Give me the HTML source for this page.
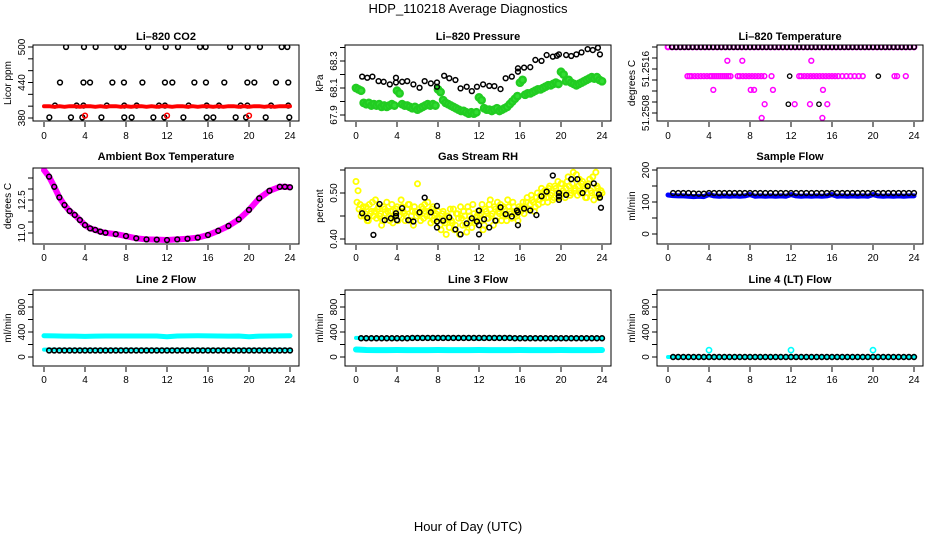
<!DOCTYPE html>
<html><head><meta charset="utf-8"><style>
html,body{margin:0;padding:0;background:#fff;}
svg{display:block;font-family:"Liberation Sans",sans-serif;}
</style></head><body>
<svg id="chart" width="936" height="540" viewBox="0 0 936 540" xmlns="http://www.w3.org/2000/svg">
<text x="468" y="13" text-anchor="middle" font-size="13">HDP_110218  Average Diagnostics</text>
<text x="468" y="531" text-anchor="middle" font-size="13">Hour of Day (UTC)</text>
</svg>
<script>
// ---------- data ----------
const xTicks = [0,4,8,12,16,20,24];
// CO2
const co2BlackHours500 = [2.15,3.9,5.04,7.15,7.74,10.15,11.87,13.07,15.22,15.77,18.15,19.87,21.07,23.19,23.74];
const co2BlackHours440 = [1.56,3.85,4.49,6.67,7.8,9.6,11.8,12.52,14.67,15.8,17.59,19.84,20.52,22.63,23.83];
const co2BlackHours400 = [1.07,3.18,3.85,6.13,7.83,9.04,11.22,11.8,14.11,15.87,17.07,19.19,19.84,22.15,23.83];
const co2BlackHours380 = [0.52,2.63,3.74,5.6,7.83,8.55,10.67,11.74,13.6,15.87,16.52,18.7,19.71,21.63,23.93];
const co2Levels = [500,440,401,381];
const co2RedHours = [0,0.5,1,1.5,2,2.5,3,3.5,4,4.5,5,5.5,6,6.5,7,7.5,8,8.5,9,9.5,10,10.5,11,11.5,12,12.5,13,13.5,14,14.5,15,15.5,16,16.5,17,17.5,18,18.5,19,19.5,20,20.5,21,21.5,22,22.5,23,23.5,24];
const co2Red = [400,400,399,400,399,400,400,399,400,400,399,400,399,400,400,399,400,399,400,400,399,400,399,400,400,399,400,400,399,400,399,400,400,399,400,399,400,400,399,400,399,400,400,399,400,399,400,400,400];
const co2RedOutHours = [4,12,20];
const co2RedOut = [384,384,384];
const co2Ticks = [380,400,420,440,460,480,500];
const co2Labels = [380,440,500];
// Pressure
const presGreen = [68.10,68.09,68.08,
67.99,67.98,67.99,67.97,67.98,67.97,67.98,67.96,67.97,67.96,67.97,67.98,67.97,
68.08,68.06,
67.98,67.97,67.97,67.96,67.95,67.96,67.94,67.95,67.96,67.97,67.98,67.97,67.98,67.97,
68.09,68.07,
68.01,67.99,67.98,67.97,67.96,67.95,67.94,67.93,67.93,67.92,67.91,67.92,67.91,67.92,
68.03,68.01,
67.95,67.94,67.94,67.93,67.94,67.95,67.93,67.94,67.95,67.96,
67.98,68.00,68.02,68.04,
68.14,68.16,
68.05,68.06,68.06,68.07,68.08,68.09,68.09,68.10,68.11,68.12,68.12,68.13,68.14,68.13,
68.22,68.20,
68.15,68.16,68.14,68.13,68.12,68.13,68.14,68.15,68.16,68.17,68.18,68.17,68.18,68.16,68.15];
const presBlackHours = [0.6,1.1,1.6,2.2,2.7,3.3,3.9,3.9,4.5,5.0,5.6,6.2,6.7,7.3,7.9,7.9,8.6,9.1,9.7,10.2,10.8,11.3,11.8,12.4,13.0,13.5,14.1,14.6,15.2,15.8,15.8,16.4,17.0,17.5,18.1,18.6,19.2,19.6,19.8,20.5,21.0,21.5,22.0,22.6,23.1,23.6,23.8];
const presBlack = [68.184,68.176,68.184,68.151,68.146,68.127,68.141,68.176,68.146,68.151,68.127,68.102,68.151,68.134,68.109,68.141,68.191,68.172,68.159,68.097,68.109,68.077,68.109,68.127,68.116,68.114,68.092,68.172,68.184,68.246,68.221,68.251,68.254,68.308,68.301,68.344,68.332,68.339,68.349,68.344,68.337,68.349,68.364,68.388,68.381,68.398,68.349];
const presTicks = [67.9,68.0,68.1,68.2,68.3,68.4];
const presLabels = ["67.9","68.1","68.3"];
// Li-820 temperature
const tempTopHours = [0.0,0.4,0.8,1.2,1.6,2.0,2.4,2.8,3.2,3.6,4.0,4.4,4.8,5.2,5.6,6.0,6.4,6.8,7.2,7.6,8.0,8.4,8.8,9.2,9.6,10.0,10.4,10.8,11.2,11.6,12.0,12.4,12.8,13.2,13.6,14.0,14.4,14.8,15.2,15.6,16.0,16.4,16.8,17.2,17.6,18.0,18.4,18.8,19.2,19.6,20.0,20.4,20.8,21.2,21.6,22.0,22.4,22.8,23.2,23.6,24.0];
const tempTop = [51.2520,51.2520,51.2520,51.2520,51.2520,51.2520,51.2520,51.2520,51.2520,51.2520,51.2520,51.2520,51.2520,51.2520,51.2520,51.2520,51.2520,51.2520,51.2520,51.2520,51.2520,51.2520,51.2520,51.2520,51.2520,51.2520,51.2520,51.2520,51.2520,51.2520,51.2520,51.2520,51.2520,51.2520,51.2520,51.2520,51.2520,51.2520,51.2520,51.2520,51.2520,51.2520,51.2520,51.2520,51.2520,51.2520,51.2520,51.2520,51.2520,51.2520,51.2520,51.2520,51.2520,51.2520,51.2520,51.2520,51.2520,51.2520,51.2520,51.2520,51.2520];
const tempMagHours = [5.79,7.25,13.98,
1.9,2.1,2.3,2.6,2.9,3.2,3.5,3.8,4.1,4.3,4.5,4.7,4.9,5.1,5.3,5.5,5.7,5.9,6.1,6.8,7.0,7.3,7.6,7.9,8.2,8.5,8.8,9.1,9.4,10.1,12.8,13.0,13.3,13.6,13.9,14.2,14.5,14.8,15.1,15.4,15.7,16.0,16.3,16.6,17.0,17.4,17.8,18.2,18.6,19.0,22.1,22.35,23.2,
4.42,8.07,8.4,10.24,15.12,
9.43,12.36,13.85,15.54,
9.14,15.06];
const tempMag = [51.25175,51.25175,51.25175,
51.25147,51.25147,51.25147,51.25147,51.25147,51.25147,51.25147,51.25147,51.25147,51.25147,51.25147,51.25147,51.25147,51.25147,51.25147,51.25147,51.25147,51.25147,51.25147,51.25147,51.25147,51.25147,51.25147,51.25147,51.25147,51.25147,51.25147,51.25147,51.25147,51.25147,51.25147,51.25147,51.25147,51.25147,51.25147,51.25147,51.25147,51.25147,51.25147,51.25147,51.25147,51.25147,51.25147,51.25147,51.25147,51.25147,51.25147,51.25147,51.25147,51.25147,51.25147,51.25147,51.25147,
51.25122,51.25122,51.25122,51.25122,51.25122,
51.25096,51.25096,51.25096,51.25096,
51.25071,51.25071];
const tempBlackHours = [11.87,20.52,11.74,14.73];
const tempBlack = [51.25147,51.25147,51.25096,51.25096];
const tempTicks = [51.2508,51.2510,51.2512,51.2514,51.2516,51.2518,51.2520];
const tempLabels = ["51.2508","51.2516"];
// Ambient
const ambHours = [0,0.5,1,1.5,2,2.5,3,3.5,4,4.5,5,5.5,6,7,8,9,10,11,12,13,14,15,16,17,18,19,20,21,22,23,23.5,24];
const ambTemp = [13.86,13.56,13.1,12.62,12.27,12.0,11.82,11.59,11.36,11.21,11.14,11.06,11.01,10.95,10.86,10.76,10.71,10.70,10.68,10.71,10.74,10.79,10.91,11.1,11.32,11.62,12.05,12.58,12.92,13.1,13.1,13.08];
const ambTicks = [11.0,11.5,12.0,12.5,13.0,13.5];
const ambLabels = ["11.0","12.5"];
// Gas stream RH
const rhYellowA = [0.525,0.505,0.475,0.46,0.45,0.47,0.44,0.455,0.48,0.46,
0.445,0.47,0.455,0.44,0.465,0.48,0.45,0.46,0.435,0.455,
0.47,0.45,0.485,0.46,0.44,0.465,0.475,0.45,0.43,0.46,
0.52,0.455,0.47,0.445,0.46,0.48,0.45,0.465,0.44,0.455,0.46,
0.43,0.455,0.44,0.41,0.45,0.465,0.435,0.42,0.455,0.445,
0.47,0.43,0.45,0.415,0.46,0.44,0.475,0.435,0.45,0.44,
0.455,0.42,0.465,0.445,0.475,0.45,0.43,0.465,0.48,0.455,
0.44,0.47,0.45,0.485,0.46,0.445,0.47,0.455,0.44,0.465,
0.47,0.455,0.48,0.465,0.475,0.485,0.46,0.49,0.475,0.495,
0.48,0.505,0.49,0.51,0.495,0.485,0.515,0.5,0.49,0.52,
0.505,0.49,0.525,0.515,0.5,0.545,0.51,0.495,0.53,0.52,
0.505,0.49,0.515,0.53,0.5,0.485,0.545,0.51,0.495,0.5];
const rhYellowB = [0.48,0.465,0.45,0.47,0.455,0.44,0.475,0.46,0.45,0.485,
0.465,0.45,0.43,0.47,0.455,0.46,0.44,0.475,0.45,0.465,
0.44,0.46,0.47,0.455,0.45,0.475,0.44,0.46,0.47,0.45,
0.455,0.44,0.465,0.475,0.45,0.46,0.435,0.47,0.45,0.445,
0.445,0.42,0.46,0.435,0.45,0.425,0.44,0.465,0.43,0.455,
0.41,0.445,0.46,0.43,0.47,0.45,0.425,0.455,0.44,0.46,
0.45,0.475,0.43,0.46,0.445,0.485,0.455,0.47,0.44,0.46,
0.475,0.45,0.465,0.44,0.47,0.455,0.48,0.46,0.45,0.47,
0.46,0.48,0.47,0.49,0.465,0.495,0.48,0.47,0.5,0.485,
0.51,0.49,0.5,0.48,0.515,0.5,0.49,0.51,0.525,0.5,
0.52,0.5,0.51,0.535,0.495,0.52,0.505,0.54,0.515,0.5,
0.525,0.51,0.49,0.52,0.505,0.535,0.5,0.515,0.49,0.505];
const rhBlackHours = [0.6,1.1,1.7,2.3,2.8,3.4,3.9,3.9,4.0,4.5,5.1,5.6,6.2,6.7,7.3,7.9,7.9,7.9,8.5,9.1,9.7,10.2,10.8,11.3,11.8,12.0,12.0,12.0,12.5,13.0,13.6,14.1,14.6,15.2,15.7,15.8,15.8,16.4,17.0,17.6,18.1,18.6,19.2,19.8,19.8,19.8,20.5,21.0,21.6,22.1,22.6,23.2,23.7,23.8,23.9];
const rhBlack = [0.456,0.446,0.409,0.476,0.441,0.445,0.456,0.45,0.441,0.467,0.441,0.438,0.458,0.49,0.458,0.472,0.438,0.425,0.44,0.447,0.421,0.41,0.434,0.445,0.438,0.462,0.43,0.41,0.443,0.425,0.44,0.469,0.454,0.449,0.462,0.458,0.43,0.466,0.462,0.452,0.493,0.503,0.538,0.5,0.493,0.485,0.496,0.53,0.53,0.5,0.515,0.521,0.497,0.49,0.468];
const rhTicks = [0.40,0.45,0.50,0.55];
const rhLabels = ["0.40","0.50"];
// Sample flow
const flowHours = [0,0.5,1,1.5,2,2.5,3,3.5,4,4.5,5,5.5,6,6.5,7,7.5,8,8.5,9,9.5,10,10.5,11,11.5,12,12.5,13,13.5,14,14.5,15,15.5,16,16.5,17,17.5,18,18.5,19,19.5,20,20.5,21,21.5,22,22.5,23,23.5,24];
const flowBlue = [122,120,119,119,118,117,118,117,123,119,118,119,118,119,118,119,123,118,119,118,119,118,119,118,123,119,118,119,118,119,118,119,123,118,119,118,119,118,119,118,123,119,118,119,118,119,118,119,119];
const flowBlack = [122,128,128,128,128,127,126,126,128,128,128,128,128,128,128,128,128,128,128,128,128,128,128,128,128,128,128,128,128,128,128,128,128,128,128,128,128,128,128,128,128,128,128,128,128,128,128,128,128];
const flowTicks = [0,50,100,150,200];
const flowLabels = [0,100,200];
// Lines 2-4 flows (hourly)
const lineHours = [0,1,2,3,4,5,6,7,8,9,10,11,12,13,14,15,16,17,18,19,20,21,22,23,24];
const line2CyanHigh = [340,338,335,335,330,334,336,336,336,336,336,336,325,336,338,340,338,336,335,336,325,334,336,338,340];
const line2CyanLow = [118,118,116,116,116,116,116,116,116,116,116,116,116,116,116,116,116,116,116,116,116,116,116,116,116];
const line2Black = [105,105,105,105,105,105,105,105,105,105,105,105,105,105,105,105,105,105,105,105,105,105,105,105,105];
const line3CyanHigh = [305,300,300,300,290,305,305,305,305,305,305,305,290,305,305,305,305,300,300,300,290,300,300,300,300];
const line3CyanLow = [120,112,110,110,112,110,110,110,112,110,110,110,112,110,110,110,112,110,110,110,112,110,110,110,112];
const line3Black = [300,300,300,300,300,300,305,305,305,305,305,305,305,305,305,305,300,300,300,300,300,300,300,300,300];
const line4Cyan = [0,0,0,0,0,0,0,0,0,0,0,0,0,0,0,0,0,0,0,0,0,0,0,0,0];
const line4Black = [0,0,0,0,0,0,0,0,0,0,0,0,0,0,0,0,0,0,0,0,0,0,0,0,0];
const line4SpikeHours = [4,12,20];
const line4Spike = [110,110,110];
const lineTicks = [0,200,400,600,800,1000];
const lineLabels = [0,400,800];

// ---------- drawing ----------
const svg = document.getElementById('chart');
const NS = 'http://www.w3.org/2000/svg';
function mk(tag, attrs, parent){
  const e = document.createElementNS(NS, tag);
  for (const k in attrs) e.setAttribute(k, attrs[k]);
  (parent||svg).appendChild(e);
  return e;
}
const COLS = [33,345,657];
const ROWS = [{top:45,bot:121,lab:139,title:40},{top:168,bot:244,lab:261,title:160},{top:290,bot:366,lab:383,title:283}];

function makePanel(col,row,title,slug,ylab,v1,y1,v2,y2,ticks,labels,labelFmt){
  const x0 = COLS[col], r = ROWS[row];
  const g = mk('g',{});
  
  
  const p = {
    x: h => x0 + 11 + h*10.25,
    y: v => y1 + (v - v1)*(y2 - y1)/(v2 - v1),
    g: g
  };
  const t = mk('text',{x:x0+133,y:r.title,'text-anchor':'middle','font-size':11,'font-weight':'bold'},g);
  t.textContent = title;
  
  
  const data = mk('g',{},g);
  
  
  p.d = data;
  // x axis
  const xa = mk('g',{},g);
  
  
  xTicks.forEach(h=>{
    mk('line',{x1:p.x(h),x2:p.x(h),y1:r.bot+1,y2:r.bot+6,stroke:'#000','stroke-width':1},xa);
    const tl = mk('text',{x:p.x(h),y:r.lab,'text-anchor':'middle','font-size':10},xa);
    tl.textContent = h;
  });
  // y axis
  const ya = mk('g',{},g);
  
  
  ticks.forEach(v=>{
    mk('line',{x1:x0-5,x2:x0,y1:p.y(v),y2:p.y(v),stroke:'#000','stroke-width':1},ya);
  });
  labels.forEach(v=>{
    const yy = p.y(parseFloat(v));
    const tl = mk('text',{x:x0-8,y:yy,'text-anchor':'middle','font-size':10,transform:`rotate(-90 ${x0-8} ${yy})`},ya);
    tl.textContent = labelFmt ? labelFmt(v) : v;
  });
  const yt = mk('text',{x:x0-22,y:(r.top+r.bot)/2,'text-anchor':'middle','font-size':10,transform:`rotate(-90 ${x0-22} ${(r.top+r.bot)/2})`},ya);
  yt.textContent = ylab;
  
  
  // box
  const box = mk('rect',{x:x0,y:r.top,width:266,height:r.bot-r.top,fill:'none',stroke:'#000','stroke-width':1},g);
  
  
  const clip = mk('clipPath',{id:'clip-'+slug},g);
  mk('rect',{x:x0,y:r.top,width:266,height:r.bot-r.top},clip);
  data.setAttribute('clip-path','url(#clip-'+slug+')');
  return p;
}
function pts(p,hours,vals,color,rad,sw,name,fill){
  hours.forEach((h,i)=>{
    const c = mk('circle',{cx:p.x(h),cy:p.y(vals[i]),r:rad,fill:fill||'none',stroke:color,'stroke-width':sw},p.d);
    
    
  });
}
function line(p,hours,vals,color,w,name){
  const d = hours.map((h,i)=>(i?'L':'M')+p.x(h).toFixed(1)+' '+p.y(vals[i]).toFixed(1)).join(' ');
  const l = mk('path',{d:d,fill:'none',stroke:color,'stroke-width':w,'stroke-linecap':'round','stroke-linejoin':'round'},p.d);
  
  
}
function levelHours(list,val){ return list.map(()=>val); }

// Panel 1 CO2
let p = makePanel(0,0,'Li\u2013820 CO2','co2','Licor ppm',500,47,380,118,co2Ticks,co2Labels);
pts(p,co2BlackHours500,levelHours(co2BlackHours500,co2Levels[0]),'#000',2.4,1.5,'co2-point');
pts(p,co2BlackHours440,levelHours(co2BlackHours440,co2Levels[1]),'#000',2.4,1.5,'co2-point');
pts(p,co2BlackHours400,levelHours(co2BlackHours400,co2Levels[2]),'#000',2.4,1.5,'co2-point');
pts(p,co2BlackHours380,levelHours(co2BlackHours380,co2Levels[3]),'#000',2.4,1.5,'co2-point');
line(p,co2RedHours,co2Red,'#ff0000',4,'co2-red-series');
pts(p,co2RedOutHours,co2RedOut,'#ff0000',2.4,1.5,'co2-red-point');

// Panel 2 Pressure
p = makePanel(1,0,'Li\u2013820 Pressure','pressure','kPa',68.3,61,67.9,115,presTicks,presLabels);
pts(p,presGreen.map((v,i)=>i*0.25),presGreen,'#22cc22',3.2,2.4,'pressure-green-point','#33dd33');
pts(p,presBlackHours,presBlack,'#000',2.4,1.5,'pressure-point');

// Panel 3 Temperature
p = makePanel(2,0,'Li\u2013820 Temperature','li820-temp','degrees C',51.2508,113,51.2516,69,tempTicks,tempLabels);
pts(p,tempTopHours,tempTop,'#ff00ff',2.4,2,'temp-magenta-point');
pts(p,tempMagHours,tempMag,'#ff00ff',2.4,1.5,'temp-magenta-point');
pts(p,tempTopHours.filter(h=>h>0.2),tempTop.filter((v,i)=>tempTopHours[i]>0.2),'#000',2.4,1.5,'temp-black-point');
pts(p,tempBlackHours,tempBlack,'#000',2.2,1.3,'temp-black-point');

// Panel 4 Ambient
p = makePanel(0,1,'Ambient Box Temperature','ambient-temp','degrees C',11.0,233,12.5,200,ambTicks,ambLabels);
line(p,ambHours,ambTemp,'#ff00ff',6,'ambient-magenta-series');
pts(p,ambHours.slice(1),ambTemp.slice(1),'#000',2.4,1.5,'ambient-point');

// Panel 5 RH
p = makePanel(1,1,'Gas Stream RH','gas-rh','percent',0.40,239,0.50,193,rhTicks,rhLabels);
pts(p,rhYellowA.map((v,i)=>i*0.2),rhYellowA,'#ffff00',2.6,1.8,'rh-yellow-point');
pts(p,rhYellowB.map((v,i)=>0.1+i*0.2),rhYellowB,'#ffff00',2.6,1.8,'rh-yellow-point');
pts(p,rhBlackHours,rhBlack,'#000',2.4,1.5,'rh-point');

// Panel 6 Sample flow
p = makePanel(2,1,'Sample Flow','sample-flow','ml/min',0,234,200,170,flowTicks,flowLabels);
line(p,flowHours,flowBlue,'#0000ff',5,'sample-flow-blue-series');
pts(p,flowHours.slice(1),flowBlack.slice(1),'#000',2.4,1.5,'sample-flow-point');

// Panel 7 Line 2
p = makePanel(0,2,'Line 2 Flow','line2-flow','ml/min',0,357,800,307,lineTicks,lineLabels);
line(p,lineHours,line2CyanHigh,'#00ffff',5,'line2-cyan-high');
line(p,lineHours,line2CyanLow,'#00ffff',4,'line2-cyan-low');
pts(p,lineHours.slice(1).map(h=>h-0.5),line2Black.slice(1),'#000',2.4,1.6,'line2-point');
pts(p,lineHours.slice(1),line2Black.slice(1),'#000',2.4,1.6,'line2-point');

// Panel 8 Line 3
p = makePanel(1,2,'Line 3 Flow','line3-flow','ml/min',0,357,800,307,lineTicks,lineLabels);
line(p,lineHours,line3CyanLow,'#00ffff',6,'line3-cyan-low');
line(p,lineHours,line3CyanHigh,'#00ffff',4,'line3-cyan-high');
pts(p,lineHours.slice(1).map(h=>h-0.5),line3Black.slice(1),'#000',2.4,1.6,'line3-point');
pts(p,lineHours.slice(1),line3Black.slice(1),'#000',2.4,1.6,'line3-point');

// Panel 9 Line 4
p = makePanel(2,2,'Line 4 (LT) Flow','line4-flow','ml/min',0,357,800,307,lineTicks,lineLabels);
line(p,lineHours,line4Cyan,'#00ffff',4,'line4-cyan');
pts(p,lineHours.slice(1).map(h=>h-0.5),line4Black.slice(1),'#000',2.4,1.6,'line4-point');
pts(p,lineHours.slice(1),line4Black.slice(1),'#000',2.4,1.6,'line4-point');
pts(p,line4SpikeHours,line4Spike,'#00ffff',2.6,1.6,'line4-cyan-spike');
</script>
</body></html>
